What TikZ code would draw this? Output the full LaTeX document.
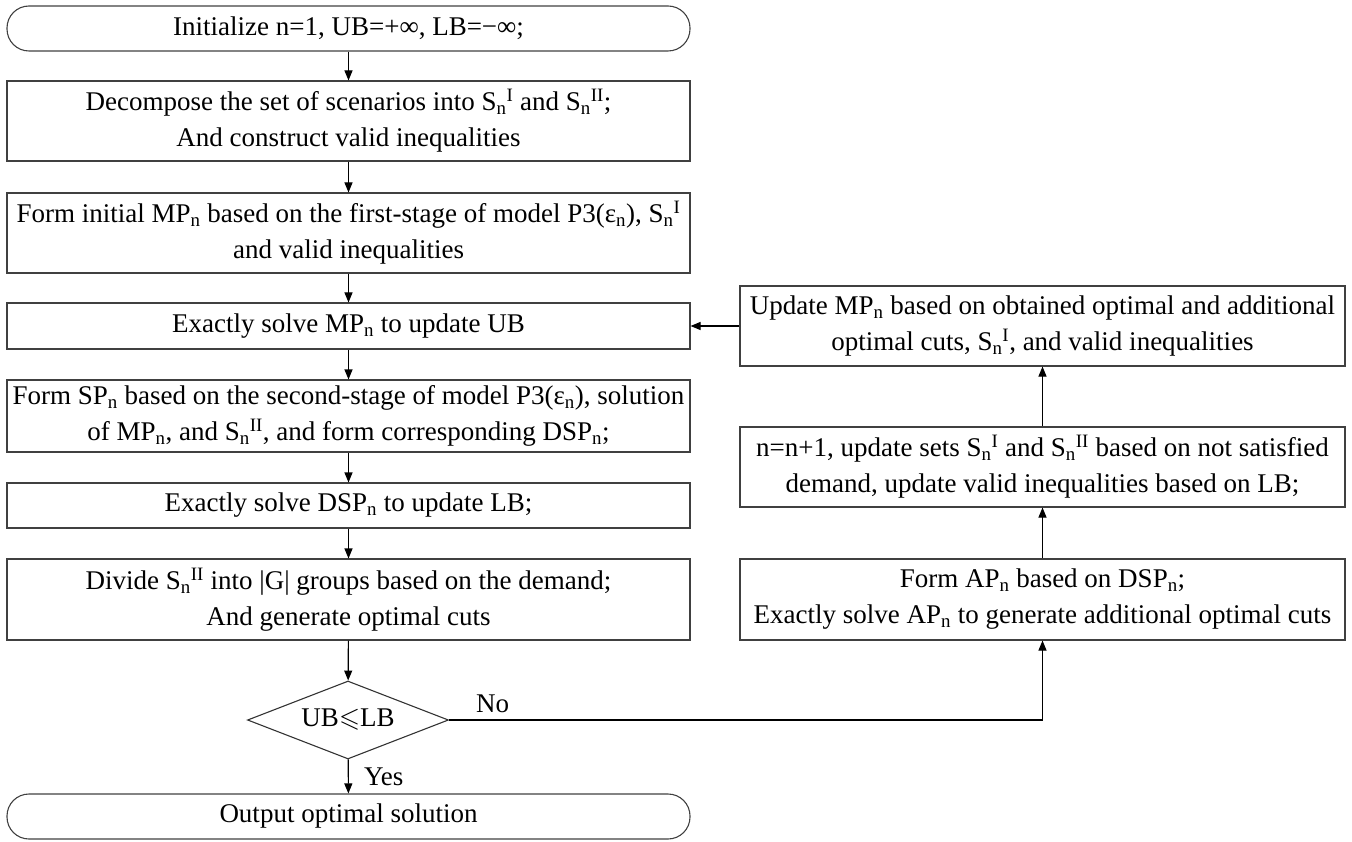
\documentclass[tikz,border=0pt]{standalone}
\usepackage{fontspec}
\setmainfont{Liberation Serif}
\usepackage{amssymb}
\usetikzlibrary{arrows.meta,shapes.geometric}
\newcommand{\sbn}{\textsubscript{n}}
\newcommand{\SnI}{S\textsubscript{n}\textsuperscript{I}}
\newcommand{\SnII}{S\textsubscript{n}\textsuperscript{II}}
\begin{document}
\begin{tikzpicture}[x=1pt,y=-1pt,
  every node/.style={font=\fontsize{27}{36}\selectfont, inner sep=0pt},
  procbox/.style={draw=black!75, line width=1.1pt, align=center, minimum width=683pt},
  rbox/.style={draw=black!75, line width=1.1pt, align=center, minimum width=605pt},
  termbox/.style={draw=black!75, line width=1.1pt, rounded corners=22pt, minimum width=683pt, minimum height=45pt},
  decbox/.style={draw=black!80, line width=1.1pt, shape=diamond, minimum width=201pt, minimum height=78pt, aspect=2.58},
  arr/.style={draw=black, line width=1.1pt, -{Triangle[length=10pt,width=8pt]}},
  lbl/.style={font=\fontsize{27}{30}\selectfont}
]
\useasboundingbox (0,0) rectangle (1352,842);

\node[termbox] (t1) at (348.5,28.5) {Initialize n=1, UB=+∞, LB=−∞;};
\node[procbox, minimum height=80pt] (b2) at (348.5,121) {Decompose the set of scenarios into \SnI{} and \SnII;\\And construct valid inequalities};
\node[procbox, minimum height=80pt] (b3) at (348.5,233) {Form initial MP\sbn{} based on the first-stage of model P3(ε\sbn), \SnI\\and valid inequalities};
\node[procbox, minimum height=46pt] (b4) at (348.5,326) {Exactly solve MP\sbn{} to update UB};
\node[procbox, minimum height=72pt] (b5) at (348.5,416) {Form SP\sbn{} based on the second-stage of model P3(ε\sbn), solution\\of MP\sbn, and \SnII, and form corresponding DSP\sbn;};
\node[procbox, minimum height=45pt] (b6) at (348.5,505.5) {Exactly solve DSP\sbn{} to update LB;};
\node[procbox, minimum height=81pt] (b7) at (348.5,599.5) {Divide \SnII{} into |G| groups based on the demand;\\And generate optimal cuts};
\node[decbox] (d) at (348,720) {UB$\leqslant$LB};
\node[termbox] (t2) at (348.5,816.5) {Output optimal solution};

\node[rbox, minimum height=80pt] (r1) at (1042.5,326) {Update MP\sbn{} based on obtained optimal and additional\\optimal cuts, \SnI, and valid inequalities};
\node[rbox, minimum height=80pt] (r2) at (1042.5,467) {n=n+1, update sets \SnI{} and \SnII{} based on not satisfied\\demand, update valid inequalities based on LB;};
\node[rbox, minimum height=81pt] (r3) at (1042.5,599.5) {Form AP\sbn{} based on DSP\sbn;\\Exactly solve AP\sbn{} to generate additional optimal cuts};

\coordinate (corner) at (1042.5,720);

\draw[arr] (t1) -- (b2);
\draw[arr] (b2) -- (b3);
\draw[arr] (b3) -- (b4);
\draw[arr] (b4) -- (b5);
\draw[arr] (b5) -- (b6);
\draw[arr] (b6) -- (b7);
\draw[arr] (b7) -- (d);
\draw[arr] (d) -- (t2);
\draw[arr] (d.east) -- (corner) -- (r3.south);
\draw[arr] (r3) -- (r2);
\draw[arr] (r2) -- (r1);
\draw[arr] (r1) -- (b4);

\node[lbl, anchor=south west] (no) at (476,713) {No};
\node[lbl, anchor=west] (yes) at (364,777) {Yes};
\end{tikzpicture}
\end{document}
